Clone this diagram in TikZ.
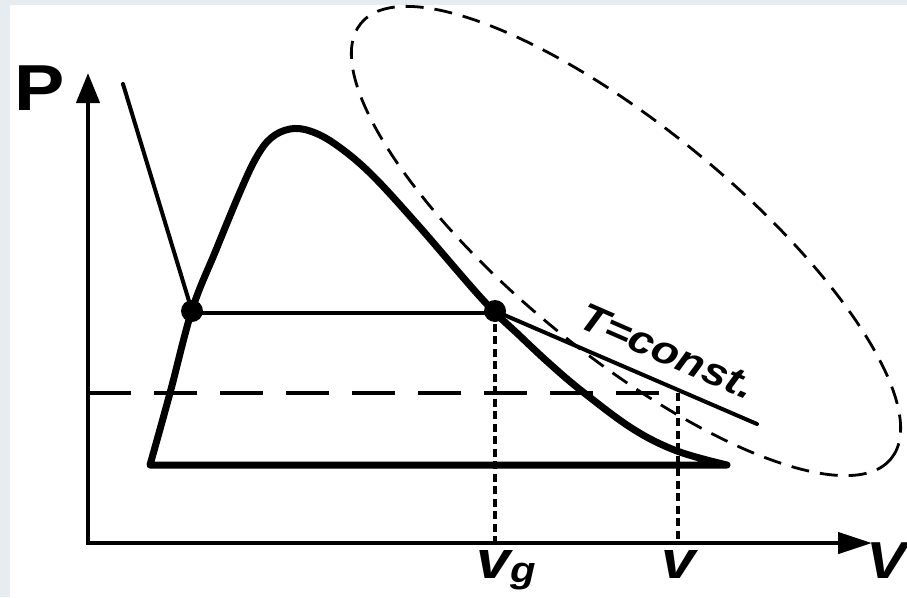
\documentclass[tikz,border=0pt]{standalone}
\usepackage{fontspec}
\setmainfont{Liberation Sans}
\usetikzlibrary{arrows.meta}
\definecolor{bgray}{HTML}{E6ECF0}
\begin{document}
\begin{tikzpicture}[x=1pt,y=-1pt,
  axisline/.style={line width=4.5pt, line join=miter},
  dome/.style={line width=7pt, line join=round, line cap=round},
  thinline/.style={line width=4pt, line cap=round},
  dotv/.style={line width=4.5pt, dash pattern=on 8pt off 4.5pt},
  dashh/.style={line width=4pt, dash pattern=on 43pt off 23pt},
  dashell/.style={line width=2.8pt, dash pattern=on 18pt off 11pt},
  bigdot/.style={circle, fill=black, inner sep=0pt, minimum size=22pt},
  lbl/.style={inner sep=0pt, outer sep=0pt}]
\useasboundingbox (0,0) rectangle (907,597);
\fill[bgray] (0,0) rectangle (907,597);
\fill[white] (10,5) rectangle (907,597);

% dashed ellipse
\draw[dashell, rotate around={-39.4:(626,241)}] (626,241) ellipse [x radius=343, y radius=113];

% dashed horizontal line
\coordinate (hd0) at (88,393);
\coordinate (hd1) at (678,393);
\draw[dashh] (hd0) -- (hd1);

% axes
\coordinate (O) at (88,543);
\coordinate (ytip) at (88,73);
\coordinate (xtip) at (872,543);
\draw[axisline, {Triangle[length=30pt,width=23pt]}-{Triangle[length=34pt,width=21pt]}] (ytip) -- (O) -- (xtip);

% saturation dome
\draw[dome] (727,465) -- (150,465) -- plot[smooth, tension=0.6] coordinates {(150,465) (170,393) (192,310) (216,250) (240,192) (256,158) (271,138) (290,129) (310,131) (335,144) (370,173) (417,224) (483,300) (520,336) (550,364) (583,392) (633,429) (677,451) (727,465)};

% points
\node[bigdot] (L) at (192,311) {};
\node[bigdot] (G) at (495,311) {};

% lines
\coordinate (lt) at (123,84);
\coordinate (it) at (757,424);
\coordinate (gb) at (495,543);
\coordinate (vt) at (678,393);
\coordinate (vb) at (678,543);
\draw[thinline] (lt) -- (L.center);
\draw[thinline] ([yshift=-2pt]L.center) -- ([yshift=-2pt]G.center);
\draw[thinline] (G.center) -- (it);
\draw[dotv] (G.center) -- (gb);
\draw[dotv] (vt) -- (vb);

% labels
\node[lbl, anchor=base west] (Plbl) at (14,110) {\fontsize{65}{65}\selectfont\bfseries\scalebox{1.16}[1]{P}};
\node[lbl, anchor=base west] (Vlbl) at (866,578) {\fontsize{52}{52}\selectfont\bfseries\itshape\scalebox{1.16}[1]{V}};
\node[lbl, anchor=base west] (vlbl) at (661,578) {\fontsize{53}{53}\selectfont\bfseries\itshape\scalebox{1.16}[1]{v}};
\node[lbl, anchor=base west] (vglbl) at (476,578) {\fontsize{53}{53}\selectfont\bfseries\itshape\scalebox{1.16}[1]{v}\raisebox{-4.5pt}{\fontsize{36}{36}\selectfont\scalebox{1.16}[1]{g}}};
\node[lbl, anchor=base west, rotate=-23.6] (Tlbl) at (576,326) {\fontsize{39}{39}\selectfont\bfseries\itshape\scalebox{1.16}[1]{T=const.}};
\end{tikzpicture}
\end{document}
